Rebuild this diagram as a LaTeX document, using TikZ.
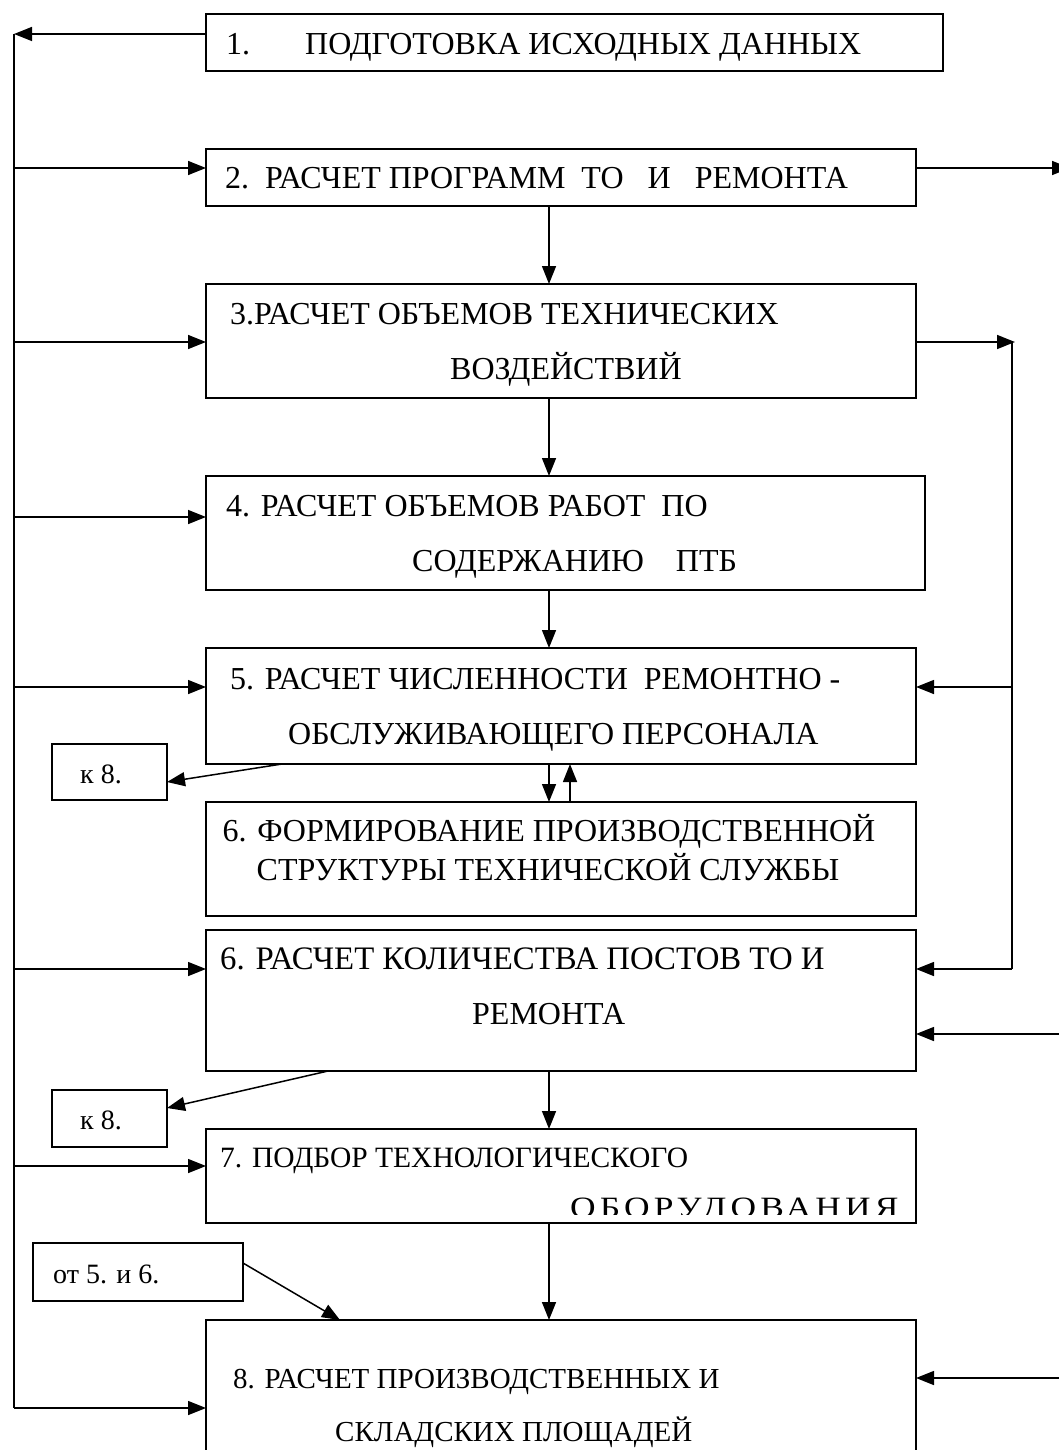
\documentclass[tikz,border=0pt]{standalone}
\usepackage{fontspec}
\setmainfont{Liberation Serif}
\usetikzlibrary{arrows.meta}
\begin{document}
\begin{tikzpicture}[x=1pt,y=-1pt,
  box/.style={draw,line width=1.5pt,inner sep=0pt,outer sep=0pt},
  txt/.style={anchor=base west,inner sep=0pt,font=\fontsize{32}{38}\selectfont},
  sm/.style={font=\fontsize{29.5}{35}\selectfont},
  tiny/.style={font=\fontsize{28}{33}\selectfont},
  con/.style={line width=1.5pt},
  arr/.style={line width=1.5pt,-{Triangle[length=18pt,width=14pt]}}]
\useasboundingbox (0,0) rectangle (1059,1450);
% boxes
\node[box,minimum width=737,minimum height=57] (b1) at (574.5,42.5) {};
\node[box,minimum width=710,minimum height=57] (b2) at (561,177.5) {};
\node[box,minimum width=710,minimum height=114] (b3) at (561,341) {};
\node[box,minimum width=719,minimum height=114] (b4) at (565.5,533) {};
\node[box,minimum width=710,minimum height=116] (b5) at (561,706) {};
\node[box,minimum width=710,minimum height=114] (b6a) at (561,859) {};
\node[box,minimum width=710,minimum height=141] (b6b) at (561,1000.5) {};
\node[box,minimum width=710,minimum height=94] (b7) at (561,1176) {};
\node[box,minimum width=710,minimum height=160] (b8) at (561,1400) {};
\node[box,minimum width=115,minimum height=56] (k1) at (109.5,772) {};
\node[box,minimum width=115,minimum height=57] (k2) at (109.5,1118.5) {};
\node[box,minimum width=210,minimum height=58] (ot) at (138,1272) {};
% texts
\node[txt] (t1) at (226,55) {1.\hspace{55pt}ПОДГОТОВКА ИСХОДНЫХ ДАННЫХ};
\node[txt] (t2) at (225,189) {2.\ \ РАСЧЕТ ПРОГРАММ\ \ ТО\ \ \ И\ \ \ РЕМОНТА};
\node[txt] (t3a) at (230,324) {3.РАСЧЕТ ОБЪЕМОВ ТЕХНИЧЕСКИХ};
\node[txt] (t3b) at (450,379) {ВОЗДЕЙСТВИЙ};
\node[txt] (t4a) at (226,516) {4. РАСЧЕТ ОБЪЕМОВ РАБОТ\ \ ПО};
\node[txt] (t4b) at (412,571) {СОДЕРЖАНИЮ\ \ \ \ ПТБ};
\node[txt] (t5a) at (230,689) {5. РАСЧЕТ ЧИСЛЕННОСТИ\ \ РЕМОНТНО -};
\node[txt] (t5b) at (288,744) {ОБСЛУЖИВАЮЩЕГО ПЕРСОНАЛА};
\node[txt,anchor=base] (t6a) at (549,841) {6. ФОРМИРОВАНИЕ ПРОИЗВОДСТВЕННОЙ};
\node[txt,anchor=base] (t6b) at (548,880) {СТРУКТУРЫ ТЕХНИЧЕСКОЙ СЛУЖБЫ};
\node[txt,font=\fontsize{32.8}{38}\selectfont] (t6c) at (220,969) {6. РАСЧЕТ КОЛИЧЕСТВА ПОСТОВ ТО И};
\node[txt] (t6d) at (472,1024) {РЕМОНТА};
\node[txt,sm] (t7a) at (220,1167) {7. ПОДБОР ТЕХНОЛОГИЧЕСКОГО};
\begin{scope}
\clip (206,1180) rectangle (916,1214);
\node[txt,sm] (t7b) at (570,1217) {\addfontfeature{FakeStretch=1.2,LetterSpace=14}ОБОРУДОВАНИЯ};
\end{scope}
\node[txt,font=\fontsize{29}{34}\selectfont] (t8a) at (233,1388) {8. РАСЧЕТ ПРОИЗВОДСТВЕННЫХ И};
\node[txt,font=\fontsize{29}{34}\selectfont] (t8b) at (335,1441) {СКЛАДСКИХ ПЛОЩАДЕЙ};
\node[txt,tiny] (tk1) at (80,783) {к 8.};
\node[txt,tiny] (tk2) at (80,1129) {к 8.};
\node[txt,tiny] (tot) at (53,1283) {от 5. и 6.};
% left spine
\coordinate (L1) at (14,34);
\coordinate (L2) at (14,168);
\coordinate (L3) at (14,342);
\coordinate (L4) at (14,517);
\coordinate (L5) at (14,687);
\coordinate (L6) at (14,969);
\coordinate (L7) at (14,1166);
\coordinate (L8) at (14,1408);
\draw[arr] (b1.west |- L1) -- (L1);
\draw[con] (L1) -- (L8);
\foreach \i/\b in {2/b2,3/b3,4/b4,5/b5,6/b6b,7/b7,8/b8}
  \draw[arr] (L\i) -- (L\i -| \b.west);
% right side
\coordinate (R2) at (1070,168);
\coordinate (R3) at (1015,342);
\coordinate (V3) at (1012,342);
\coordinate (V5) at (1012,687);
\coordinate (V6) at (1012,969);
\coordinate (E6) at (1062,1034);
\coordinate (E8) at (1062,1378);
\draw[arr] (b2.east |- R2) -- (R2);
\draw[arr] (b3.east |- R3) -- (R3);
\draw[con] (V3) -- (V6);
\draw[arr] (V5) -- (V5 -| b5.east);
\draw[arr] (V6) -- (V6 -| b6b.east);
\draw[arr] (E6) -- (E6 -| b6b.east);
\draw[arr] (E8) -- (E8 -| b8.east);
% vertical arrows
\coordinate (C) at (549,0);
\coordinate (U) at (570,0);
\draw[arr] (C |- b2.south) -- (C |- b3.north);
\draw[arr] (C |- b3.south) -- (C |- b4.north);
\draw[arr] (C |- b4.south) -- (C |- b5.north);
\draw[arr] (C |- b5.south) -- (C |- b6a.north);
\draw[arr] (U |- b6a.north) -- (U |- b5.south);
\draw[arr] (C |- b6b.south) -- (C |- b7.north);
\draw[arr] (C |- b7.south) -- (C |- b8.north);
% diagonal arrows
\coordinate (D5) at (282,764);
\coordinate (D6) at (328,1071);
\coordinate (D8) at (340,1320);
\draw[arr] (D5) -- (k1.east |- 0,782);
\draw[arr] (D6) -- (k2.east |- 0,1108);
\draw[arr] (ot.east |- 0,1263) -- (D8);
\end{tikzpicture}
\end{document}
